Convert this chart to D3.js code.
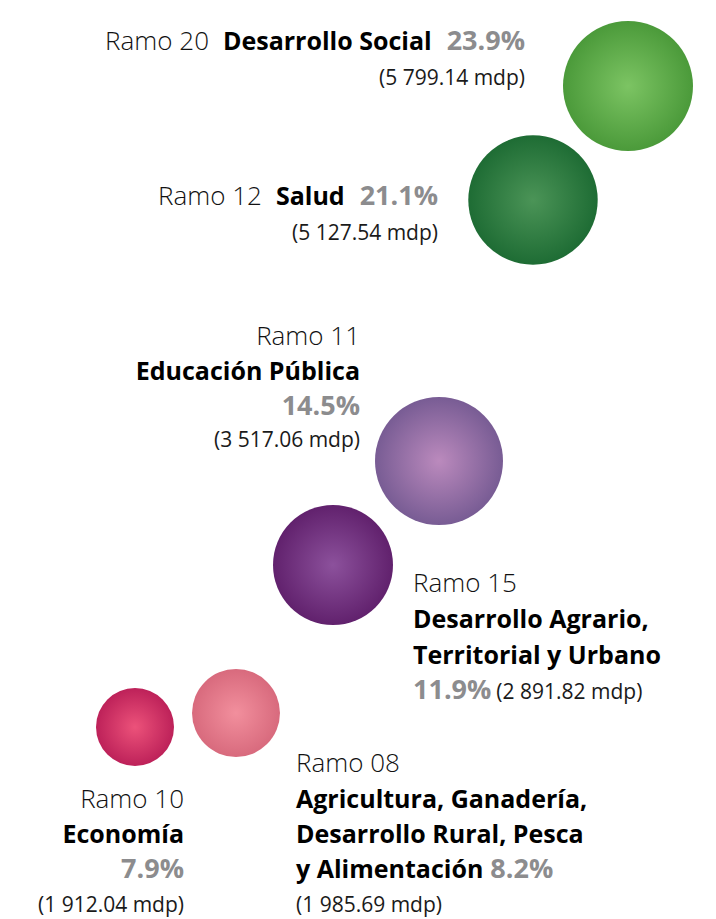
<!DOCTYPE html>
<html>
<head>
<meta charset="utf-8">
<script src="https://cdn.jsdelivr.net/npm/d3@7"></script>
<style>
  html, body { margin: 0; padding: 0; background: #ffffff; }
  svg { display: block; }
</style>
</head>
<body>
<svg id="chart" width="716" height="919"></svg>
<script>
// ---------- DATA ----------
const ramos    = ["20", "12", "11", "15", "08", "10"];
const names    = ["Desarrollo Social", "Salud", "Educación Pública",
                  "Desarrollo Agrario, Territorial y Urbano",
                  "Agricultura, Ganadería, Desarrollo Rural, Pesca y Alimentación",
                  "Economía"];
const percents = [23.9, 21.1, 14.5, 11.9, 8.2, 7.9];
const amounts  = [5799.14, 5127.54, 3517.06, 2891.82, 1985.69, 1912.04]; // millones de pesos
const unit = "mdp";

// ---------- STYLE / LAYOUT ----------
const colorCenter = ["#7cc463", "#4b9457", "#bb8abd", "#8c519c", "#f28f9d", "#ec527a"];
const colorEdge   = ["#4b9a3a", "#1e6c34", "#785c94", "#61216d", "#d86a7d", "#bd2159"];

const svg = d3.select("#chart");

// bubble centres (layout) and size scale
const cx = d3.scaleOrdinal().domain(ramos).range([628, 533, 439, 333, 236, 135]);
const cy = d3.scaleOrdinal().domain(ramos).range([86, 200, 461, 565, 713, 727]);
const r  = d3.scaleLinear().domain([1912, 1986, 2892, 3517, 5799]).range([39, 44, 60, 64, 65]);

const data = ramos.map((d, i) => ({
  ramo: d, name: names[i], pct: percents[i], amount: amounts[i], i
}));

// gradients
const defs = svg.append("defs");
data.forEach(d => {
  const g = defs.append("radialGradient")
    .attr("id", "grad" + d.i)
    .attr("cx", "50%").attr("cy", "50%").attr("r", "50%");
  g.append("stop").attr("offset", "0%").attr("stop-color", colorCenter[d.i]);
  g.append("stop").attr("offset", "100%").attr("stop-color", colorEdge[d.i]);
});

svg.append("g").selectAll("circle")
  .data(data)
  .join("circle")
  .attr("cx", d => cx(d.ramo))
  .attr("cy", d => cy(d.ramo))
  .attr("r", d => r(d.amount))
  .attr("fill", d => "url(#grad" + d.i + ")");

// ---------- TEXT ----------
const fmtNum = v => {
  const s = v.toFixed(2);
  const [intp, dec] = s.split(".");
  return intp.replace(/\B(?=(\d{3})+(?!\d))/g, " ") + "." + dec;
};
const fmtPct = v => v.toFixed(1) + "%";

const FONT = "'Open Sans', Lato, sans-serif";
const styles = {
  light: { size: 26, weight: 300, fill: "#111111", ls: 0 },
  bold:  { size: 25, weight: 700, fill: "#000000", ls: 0 },
  pct:   { size: 27, weight: 700, fill: "#8c8c8e", ls: 0 },
  amt:   { size: 21, weight: 400, fill: "#1a1a1a", ls: 0 }
};

function ramoTxt(d) { return "Ramo " + d.ramo; }
function amtTxt(d)  { return "(" + fmtNum(d.amount) + " " + unit + ")"; }
const labelLayout = [
  { x: 525, anchor: "end", lines: d => [
      { y: 50, parts: [["light", ramoTxt(d), 0], ["bold", d.name, 14], ["pct", fmtPct(d.pct), 15]] },
      { y: 85, parts: [["amt", amtTxt(d), 0]] } ] },
  { x: 438, anchor: "end", lines: d => [
      { y: 205, parts: [["light", ramoTxt(d), 0], ["bold", d.name, 14], ["pct", fmtPct(d.pct), 15]] },
      { y: 240, parts: [["amt", amtTxt(d), 0]] } ] },
  { x: 360, anchor: "end", lines: d => [
      { y: 345, parts: [["light", ramoTxt(d), 0]] },
      { y: 380, parts: [["bold", d.name, 0]] },
      { y: 415, parts: [["pct", fmtPct(d.pct), 0]] },
      { y: 447, parts: [["amt", amtTxt(d), 0]] } ] },
  { x: 413, anchor: "start", lines: d => {
      const w = d.name.split(" ");
      return [
      { y: 592, parts: [["light", ramoTxt(d), 0]] },
      { y: 628, parts: [["bold", w.slice(0, 2).join(" "), 0]] },
      { y: 664, parts: [["bold", w.slice(2).join(" "), 0]] },
      { y: 699, parts: [["pct", fmtPct(d.pct), 0], ["amt", amtTxt(d), 5]] } ]; } },
  { x: 296, anchor: "start", lines: d => {
      const w = d.name.split(" ");
      return [
      { y: 772, parts: [["light", ramoTxt(d), 0]] },
      { y: 808, parts: [["bold", w.slice(0, 2).join(" "), 0]] },
      { y: 843, parts: [["bold", w.slice(2, 5).join(" "), 0]] },
      { y: 878, parts: [["bold", w.slice(5).join(" "), 0], ["pct", fmtPct(d.pct), 7]] },
      { y: 912, parts: [["amt", amtTxt(d), 0]] } ]; } },
  { x: 184, anchor: "end", lines: d => [
      { y: 808, parts: [["light", ramoTxt(d), 0]] },
      { y: 843, parts: [["bold", d.name, 0]] },
      { y: 878, parts: [["pct", fmtPct(d.pct), 0]] },
      { y: 912, parts: [["amt", amtTxt(d), 0]] } ] }
];

const labels = svg.append("g").attr("font-family", FONT);
data.forEach(d => {
  const L = labelLayout[d.i];
  L.lines(d).forEach(line => {
    const t = labels.append("text")
      .attr("x", L.x).attr("y", line.y)
      .attr("text-anchor", L.anchor);
    line.parts.forEach(([st, txt, dx]) => {
      const s = styles[st];
      t.append("tspan")
        .attr("dx", dx)
        .attr("font-size", s.size)
        .attr("font-weight", s.weight)
        .attr("letter-spacing", s.ls)
        .attr("fill", s.fill)
        .text(txt);
    });
  });
});
</script>
</body>
</html>
